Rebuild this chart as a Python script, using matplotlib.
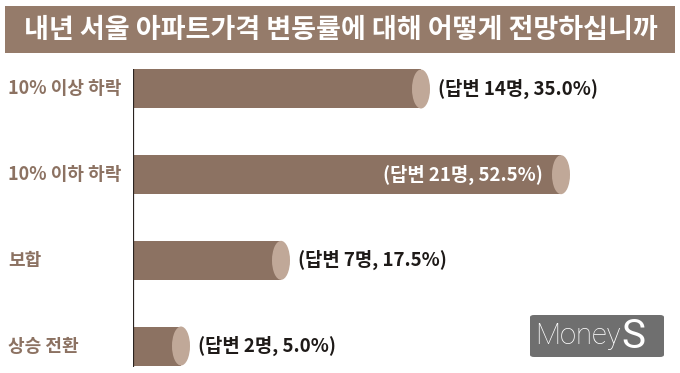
import matplotlib
matplotlib.use("Agg")
import matplotlib.pyplot as plt
import matplotlib.transforms as mtrans
from matplotlib.patches import Ellipse, FancyBboxPatch, Rectangle
from matplotlib import font_manager

plt.rcParams['font.family'] = ['Noto Sans CJK KR', 'DejaVu Sans']

title = "내년 서울 아파트가격 변동률에 대해 어떻게 전망하십니까"
categories = ["10% 이상 하락", "10% 이하 하락", "보합", "상승 전환"]
respondents = [14, 21, 7, 2]
percents = [35.0, 52.5, 17.5, 5.0]

BAR = "#8c7262"
CAP = "#c0a898"
W, H = 680, 373
fig = plt.figure(figsize=(W / 100, H / 100), dpi=100)
fig.patch.set_facecolor("white")

# title banner
fig.patches.append(Rectangle((5 / W, 1 - 53 / H), 670 / W, 47 / H,
                             transform=fig.transFigure, facecolor="#957b6a",
                             edgecolor="none"))
fig.text(341 / W, 1 - 29.5 / H, title, ha="center", va="center", color="white",
         fontsize=19.5, fontweight="bold")

# axes: x unit = 8 px, axis line at x=-1
x0_px, top_px, bot_px = 133, 69, 367
ppu = 8.0
ax = fig.add_axes([x0_px / W, 1 - bot_px / H, (W - x0_px) / W, (bot_px - top_px) / H])
ax.set_xlim(-1, -1 + (W - x0_px) / ppu)
step = 85.7
ax.set_ylim(3 + 21 / step, -20 / step)
ax.axis("off")
ax.axvline(-1, color="#2a2320", lw=1.6, zorder=5)

lab_tr = mtrans.blended_transform_factory(fig.transFigure, ax.transData)
bh = 39 / step
cap_w = 18 / ppu
imax = percents.index(max(percents))
for i, (cat, n, p) in enumerate(zip(categories, respondents, percents)):
    ax.barh(i, p + 1, left=-1, height=bh, color=BAR, zorder=2)
    ax.add_patch(Ellipse((p, i), cap_w, bh, facecolor=CAP, edgecolor="none", zorder=3))
    label = f"(답변 {n}명, {p:.1f}%)"
    if i == imax:
        ax.text(p - cap_w / 2 - 1.2, i, label, ha="right", va="center", color="white",
                fontsize=13.5, fontweight="bold", zorder=4)
    else:
        ax.text(p + cap_w / 2 + 1.0, i, label, ha="left", va="center", color="#1e1a18",
                fontsize=13.5, fontweight="bold", zorder=4)
    fig.text(8 / W, i, cat, transform=lab_tr, ha="left", va="center", color=BAR,
             fontsize=13, fontweight="bold")

# MoneyS logo
fig.patches.append(FancyBboxPatch((530 / W, 1 - 357 / H), 134 / W, 42 / H,
                                  boxstyle="round,pad=0,rounding_size=0.006",
                                  transform=fig.transFigure, facecolor="#6f6f6f",
                                  edgecolor="none"))
t1 = fig.text(535 / W, 1 - 336 / H, "Money", ha="left", va="center", color="white",
              fontsize=21, fontfamily="Roboto", fontweight="light")
fig.canvas.draw()
bb = t1.get_window_extent()
fig.text(bb.x1 / W + 1 / W, 1 - 336 / H, "S", ha="left", va="center", color="white",
         fontsize=29, fontfamily="Roboto", fontweight="normal")

fig.savefig("out.png", dpi=100)
